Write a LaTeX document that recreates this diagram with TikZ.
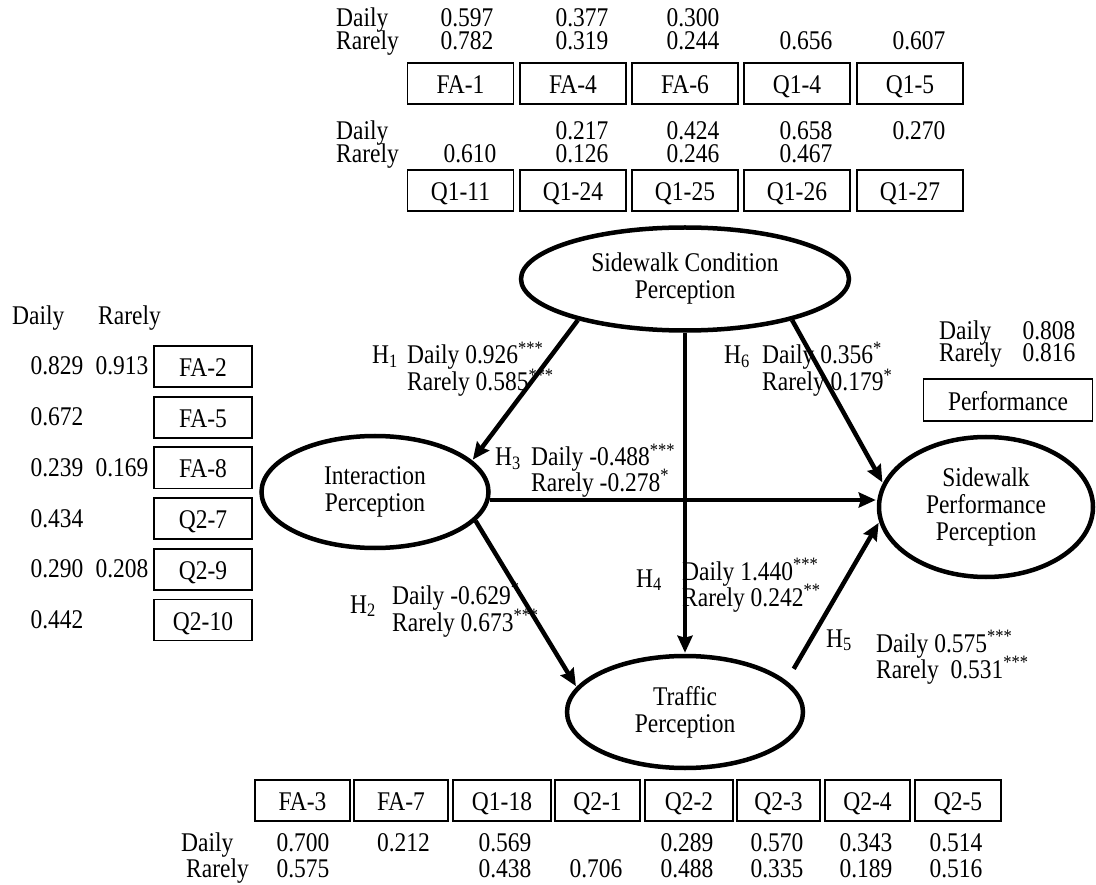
\documentclass[tikz,border=0pt]{standalone}
\usepackage{fontspec}
\setmainfont{Liberation Serif}[FakeStretch=0.87]
\usetikzlibrary{arrows.meta,shapes.geometric}
\newcommand{\pstar}[1]{\textsuperscript{#1}}
\begin{document}
\begin{tikzpicture}[x=1pt,y=-1pt,
  every node/.style={font=\fontsize{27}{27}\selectfont},
  txt/.style={inner sep=0pt, anchor=base west},
  val/.style={inner sep=0pt, anchor=base},
  ind/.style={draw, line width=1.8pt, inner sep=0pt, minimum height=41pt,
              text height=20pt, text depth=0pt},
  lat/.style={draw, ellipse, line width=4.5pt, inner sep=0pt, align=center},
  effect/.style={line width=4.5pt, -{Stealth[length=17pt,width=15pt,inset=2pt]},
                 shorten >=1pt}
]
\fill[white] (0,0) rectangle (1096,885);
\useasboundingbox (0,0) rectangle (1096,885);

% ---------- upper indicator table ----------
\node[txt] (td1) at (336,27) {Daily};
\node[txt] (tr1) at (336,50) {Rarely};
\foreach \x/\v [count=\i] in {467/0.597,582/0.377,693/0.300}
  \node[val] (tda\i) at (\x,27) {\v};
\foreach \x/\v [count=\i] in {467/0.782,582/0.319,693/0.244,806/0.656,919/0.607}
  \node[val] (tra\i) at (\x,50) {\v};
\foreach \x/\t [count=\i] in {460.5/FA-1,573/FA-4,685/FA-6,797/Q1-4,910/Q1-5}
  \node[ind, minimum width=106pt] (ta\i) at (\x,83.5) {\t};

\node[txt] (td2) at (336,140) {Daily};
\node[txt] (tr2) at (336,163) {Rarely};
\foreach \x/\v [count=\i] in {582/0.217,693/0.424,806/0.658,919/0.270}
  \node[val] (tdb\i) at (\x,140) {\v};
\foreach \x/\v [count=\i] in {470/0.610,582/0.126,693/0.246,806/0.467}
  \node[val] (trb\i) at (\x,163) {\v};
\foreach \x/\t [count=\i] in {460.5/Q1-11,573/Q1-24,685/Q1-25,797/Q1-26,910/Q1-27}
  \node[ind, minimum width=106pt] (tb\i) at (\x,190.5) {\t};

% ---------- left indicator table ----------
\node[txt] (ld) at (12,325) {Daily};
\node[txt] (lr) at (98,325) {Rarely};
\foreach \y/\t/\d/\r [count=\i] in {366.5/FA-2/0.829/0.913, 417.2/FA-5/0.672/,
    467.9/FA-8/0.239/0.169, 518.6/Q2-7/0.434/, 569.3/Q2-9/0.290/0.208,
    620/Q2-10/0.442/} {
  \node[ind, minimum width=98pt] (lb\i) at (203,\y) {\t};
  \node[val] (lvd\i) at (57,\y+8.5) {\d};
  \node[val] (lvr\i) at (122,\y+8.5) {\r};
}

% ---------- performance indicator ----------
\node[txt] (pd) at (939,340) {Daily};
\node[val] (pdv) at (1049,340) {0.808};
\node[txt] (pr) at (939,362) {Rarely};
\node[val] (prv) at (1049,362) {0.816};
\node[ind, minimum width=169pt, minimum height=42pt] (pb) at (1008,400) {Performance};

% ---------- lower indicator table ----------
\foreach \x/\w/\t [count=\i] in {302.5/95/FA-3, 401/94/FA-7, 502/98/Q1-18,
    597.5/85/Q2-1, 689/88/Q2-2, 778.5/83/Q2-3, 867.5/85/Q2-4, 958/86/Q2-5}
  \node[ind, minimum width=\w pt] (bb\i) at (\x,800.5) {\t};
\node[txt] (bd) at (181,851) {Daily};
\node[txt] (br) at (186,877) {Rarely};
\foreach \x/\v [count=\i] in {303/0.700,403.5/0.212,505/0.569,687/0.289,
    777/0.570,866/0.343,956/0.514}
  \node[val] (bdv\i) at (\x,851) {\v};
\foreach \x/\v [count=\i] in {303/0.575,505/0.438,596/0.706,687/0.488,
    777/0.335,866/0.189,956/0.516}
  \node[val] (brv\i) at (\x,877) {\v};

% ---------- latent constructs ----------
\node[lat, minimum width=328pt, minimum height=103pt] (sc) at (685,279)
  {Sidewalk Condition\\Perception};
\node[lat, minimum width=227pt, minimum height=112pt] (ip) at (375,492)
  {Interaction\\Perception};
\node[lat, minimum width=214pt, minimum height=140pt] (pp) at (986,507)
  {Sidewalk\\Performance\\Perception};
\node[lat, minimum width=236pt, minimum height=112pt] (tp) at (685,712)
  {Traffic\\Perception};

% ---------- path coefficients ----------
\node[txt] (h1) at (372,364) {H\textsubscript{1}};
\node[txt] (h1d) at (407,364) {Daily 0.926\pstar{***}};
\node[txt] (h1r) at (407,391) {Rarely 0.585\pstar{***}};

\node[txt] (h6) at (724,364) {H\textsubscript{6}};
\node[txt] (h6d) at (762,364) {Daily 0.356\pstar{*}};
\node[txt] (h6r) at (762,391) {Rarely 0.179\pstar{*}};

\node[txt] (h3) at (495,466) {H\textsubscript{3}};
\node[txt] (h3d) at (531,466) {Daily -0.488\pstar{***}};
\node[txt] (h3r) at (531,491) {Rarely -0.278\pstar{*}};

\node[txt] (h4) at (636,587) {H\textsubscript{4}};
\node[txt] (h4d) at (682,580) {Daily 1.440\pstar{***}};
\node[txt] (h4r) at (682,606) {Rarely 0.242\pstar{**}};

\node[txt] (h2) at (350,613) {H\textsubscript{2}};
\node[txt] (h2d) at (392,604) {Daily -0.629\pstar{*}};
\node[txt] (h2r) at (392,631) {Rarely 0.673\pstar{***}};

\node[txt] (h5) at (826,647) {H\textsubscript{5}};
\node[txt] (h5d) at (876,652) {Daily 0.575\pstar{***}};
\node[txt] (h5r) at (876,678) {Rarely~~0.531\pstar{***}};

% ---------- structural paths ----------
\draw[effect] (sc.201.9) -- (ip.18);
\draw[effect] (sc.339.3) -- (pp.167);
\draw[effect] (ip.356) -- (ip.356 -| pp.west);
\draw[effect] (sc.south) -- (tp.north);
\draw[effect] (ip.344) -- (tp.167);
\draw[effect, shorten <=14pt] (tp.17.5) -- (pp.188.4);
\end{tikzpicture}
\end{document}
